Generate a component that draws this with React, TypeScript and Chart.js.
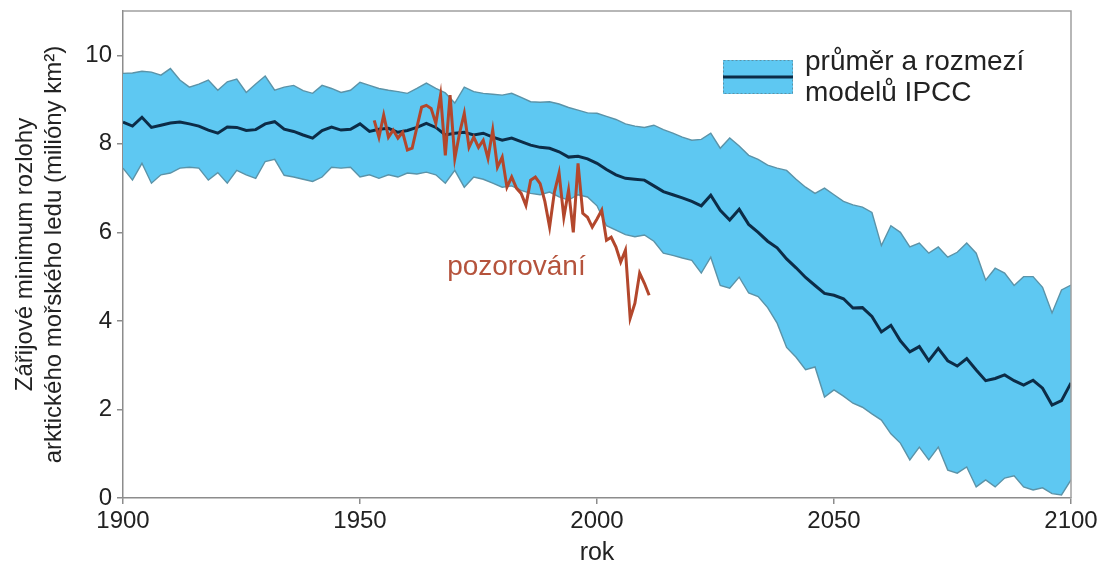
import React, { useEffect, useRef } from "react";
import { Chart, registerables } from "chart.js";

Chart.register(...registerables);

const modelYears = [
  1900, 1902, 1904, 1906, 1908, 1910, 1912, 1914, 1916, 1918,
  1920, 1922, 1924, 1926, 1928, 1930, 1932, 1934, 1936, 1938,
  1940, 1942, 1944, 1946, 1948, 1950, 1952, 1954, 1956, 1958,
  1960, 1962, 1964, 1966, 1968, 1970, 1972, 1974, 1976, 1978,
  1980, 1982, 1984, 1986, 1988, 1990, 1992, 1994, 1996, 1998,
  2000, 2002, 2004, 2006, 2008, 2010, 2012, 2014, 2016, 2018,
  2020, 2022, 2024, 2026, 2028, 2030, 2032, 2034, 2036, 2038,
  2040, 2042, 2044, 2046, 2048, 2050, 2052, 2054, 2056, 2058,
  2060, 2062, 2064, 2066, 2068, 2070, 2072, 2074, 2076, 2078,
  2080, 2082, 2084, 2086, 2088, 2090, 2092, 2094, 2096, 2098,
  2100,
];

const modelUpper = [
  9.59, 9.6, 9.64, 9.62, 9.55, 9.7, 9.44, 9.28, 9.35, 9.44,
  9.21, 9.4, 9.46, 9.16, 9.35, 9.53, 9.21, 9.28, 9.32, 9.2,
  9.14, 9.32, 9.25, 9.16, 9.21, 9.39, 9.32, 9.25, 9.21, 9.18,
  9.14, 9.25, 9.37, 9.25, 9.15, 8.92, 9.28, 9.18, 9.14, 9.12,
  9.1, 9.14, 9.05, 8.95, 8.94, 8.95, 8.9, 8.82, 8.76, 8.7,
  8.69, 8.62, 8.55, 8.45, 8.4, 8.37, 8.42, 8.32, 8.24, 8.15,
  8.08, 8.1, 8.24, 7.9, 8.13, 7.95, 7.74, 7.65, 7.52, 7.45,
  7.4, 7.2, 7.02, 6.88, 7.0, 6.85, 6.7, 6.62, 6.57, 6.45,
  5.7, 6.15, 6.0, 5.67, 5.76, 5.53, 5.67, 5.44, 5.55, 5.76,
  5.53, 4.92, 5.19, 5.08, 4.8, 5.0, 5.0, 4.76, 4.18, 4.7,
  4.81,
];

const modelMean = [
  8.49, 8.4, 8.6, 8.37, 8.42, 8.47, 8.49, 8.45, 8.4, 8.31,
  8.24, 8.38, 8.37, 8.3, 8.32, 8.45, 8.5, 8.33, 8.28, 8.2,
  8.13, 8.3, 8.38, 8.31, 8.33, 8.45, 8.28, 8.33, 8.35, 8.26,
  8.3, 8.37, 8.46, 8.37, 8.2, 8.24, 8.26, 8.2, 8.24, 8.15,
  8.08, 8.13, 8.05, 7.97, 7.92, 7.9, 7.82, 7.7, 7.72, 7.66,
  7.56, 7.42, 7.3, 7.22, 7.2, 7.18, 7.05, 6.92, 6.85, 6.78,
  6.7, 6.6, 6.84, 6.5, 6.28, 6.52, 6.18, 6.0, 5.8, 5.65,
  5.4, 5.2, 4.98, 4.8, 4.62, 4.58, 4.5, 4.29, 4.3, 4.1,
  3.75, 3.9, 3.55, 3.3, 3.42, 3.1, 3.38, 3.1, 2.98, 3.15,
  2.89, 2.65, 2.7, 2.78, 2.65, 2.55, 2.66, 2.48, 2.1, 2.2,
  2.6,
];

const modelLower = [
  7.45, 7.18, 7.56, 7.11, 7.3, 7.34, 7.45, 7.47, 7.45, 7.18,
  7.35, 7.11, 7.4, 7.3, 7.22, 7.6, 7.65, 7.29, 7.25, 7.2,
  7.15, 7.25, 7.47, 7.45, 7.47, 7.25, 7.3, 7.22, 7.3, 7.25,
  7.34, 7.32, 7.36, 7.3, 7.11, 7.4, 7.02, 7.25, 7.2, 7.11,
  7.02, 7.05, 6.95, 6.88, 6.85, 6.91, 6.8, 6.73, 6.85, 6.8,
  6.6, 6.15, 6.05, 5.95, 5.9, 5.94, 5.8, 5.53, 5.48, 5.42,
  5.37, 5.08, 5.44, 4.8, 4.74, 4.99, 4.63, 4.55, 4.3, 3.95,
  3.4, 3.18, 2.9, 2.96, 2.28, 2.44, 2.3, 2.14, 2.05, 1.9,
  1.76, 1.45, 1.24, 0.86, 1.15, 0.86, 1.15, 0.63, 0.56, 0.7,
  0.25, 0.41, 0.25, 0.45, 0.5, 0.25, 0.18, 0.23, 0.1, 0.07,
  0.41,
];

const obsYears = [
  1953, 1954, 1955, 1956, 1957, 1958, 1959, 1960, 1961, 1962,
  1963, 1964, 1965, 1966, 1967, 1968, 1969, 1970, 1971, 1972,
  1973, 1974, 1975, 1976, 1977, 1978, 1979, 1980, 1981, 1982,
  1983, 1984, 1985, 1986, 1987, 1988, 1989, 1990, 1991, 1992,
  1993, 1994, 1995, 1996, 1997, 1998, 1999, 2000, 2001, 2002,
  2003, 2004, 2005, 2006, 2007, 2008, 2009, 2010, 2011,
];

const obsValues = [
  8.53, 8.15, 8.65, 8.15, 8.31, 8.13, 8.26, 7.86, 7.9, 8.37,
  8.83, 8.87, 8.8, 8.46, 9.1, 7.74, 9.1, 7.67, 8.24, 8.69,
  7.92, 8.15, 7.92, 8.08, 7.67, 8.31, 7.47, 7.7, 7.02, 7.25,
  7.0, 6.88, 6.61, 7.18, 7.25, 7.1, 6.7, 6.12, 6.9, 7.34,
  6.34, 6.95, 6.0, 7.56, 6.43, 6.34, 6.12, 6.3, 6.5, 5.82,
  5.89, 5.67, 5.33, 5.6, 4.06, 4.4, 5.08, 4.85, 4.58,
];

const xTickValues = [1900, 1950, 2000, 2050, 2100];
const yTickValues = [0, 2, 4, 6, 8, 10];

const yTitleLines = ["Zářijové minimum rozlohy", "arktického mořského ledu (milióny km²)"];
const xTitle = "rok";
const legendLines = ["průměr a rozmezí", "modelů IPCC"];
const obsLabel = "pozorování";
const obsLabelAt = { year: 1983, value: 5.22 };

const FONT = "'Liberation Sans', Arial, Helvetica, sans-serif";
const BAND = "#5ec8f2";
const EDGE = "#5b93a8";
const MEAN = "#0c2c47";
const OBS = "#b3472c";
const AXIS = "#8c8c8c";
const TEXT = "#222222";

const decorPlugin = {
  id: "decor",
  afterDraw(chart: any) {
    const { ctx, chartArea, scales } = chart;
    ctx.save();
    // frame top & right
    ctx.strokeStyle = "#a0a0a0";
    ctx.lineWidth = 1.5;
    ctx.beginPath();
    ctx.moveTo(chartArea.left, chartArea.top);
    ctx.lineTo(chartArea.right, chartArea.top);
    ctx.lineTo(chartArea.right, chartArea.bottom);
    ctx.stroke();

    // legend
    const bx = chartArea.left + 600;
    const by = chartArea.top + 49;
    const bw = 70;
    const bh = 34;
    ctx.fillStyle = BAND;
    ctx.fillRect(bx, by, bw, bh);
    ctx.setLineDash([2, 2]);
    ctx.strokeStyle = EDGE;
    ctx.lineWidth = 1;
    ctx.strokeRect(bx + 0.5, by + 0.5, bw - 1, bh - 1);
    ctx.setLineDash([]);
    ctx.strokeStyle = MEAN;
    ctx.lineWidth = 3;
    ctx.beginPath();
    ctx.moveTo(bx, by + bh / 2);
    ctx.lineTo(bx + bw, by + bh / 2);
    ctx.stroke();

    ctx.fillStyle = TEXT;
    ctx.font = `28px ${FONT}`;
    ctx.textAlign = "left";
    ctx.textBaseline = "alphabetic";
    ctx.fillText(legendLines[0], bx + 82, by + 10);
    ctx.fillText(legendLines[1], bx + 82, by + 41);

    // observation label
    const ox = scales.x.getPixelForValue(obsLabelAt.year);
    const oy = scales.y.getPixelForValue(obsLabelAt.value);
    ctx.fillStyle = "#b5533c";
    ctx.font = `28px ${FONT}`;
    ctx.textAlign = "center";
    ctx.textBaseline = "middle";
    ctx.fillText(obsLabel, ox, oy);
    ctx.restore();
  },
};

export default function App() {
  const canvasRef = useRef<HTMLCanvasElement | null>(null);

  useEffect(() => {
    document.body.style.margin = "0";
    const canvas = canvasRef.current;
    if (!canvas) return;
    const pts = (xs: number[], ys: number[]) => xs.map((x, i) => ({ x, y: ys[i] }));

    const chart = new Chart(canvas, {
      type: "line",
      data: {
        datasets: [
          {
            label: "pozorování",
            data: pts(obsYears, obsValues),
            borderColor: OBS,
            borderWidth: 3,
            pointRadius: 0,
            tension: 0,
            fill: false,
            order: 0,
          },
          {
            label: "průměr",
            data: pts(modelYears, modelMean),
            borderColor: MEAN,
            borderWidth: 3,
            pointRadius: 0,
            tension: 0,
            fill: false,
            order: 1,
          },
          {
            label: "horní mez",
            data: pts(modelYears, modelUpper),
            borderColor: EDGE,
            borderWidth: 1.4,
            pointRadius: 0,
            tension: 0,
            fill: false,
            order: 2,
          },
          {
            label: "dolní mez",
            data: pts(modelYears, modelLower),
            borderColor: EDGE,
            borderWidth: 1.4,
            backgroundColor: BAND,
            pointRadius: 0,
            tension: 0,
            fill: 2,
            order: 3,
          },
        ],
      },
      options: {
        responsive: false,
        animation: false,
        layout: { padding: { top: 11, right: 35, left: 0, bottom: 0 } },
        plugins: {
          legend: { display: false },
          tooltip: { enabled: false },
        },
        scales: {
          x: {
            type: "linear",
            min: 1900,
            max: 2100,
            afterBuildTicks: (scale: any) => {
              scale.ticks = xTickValues.map((v) => ({ value: v }));
            },
            afterFit: (scale: any) => {
              scale.height = 76;
            },
            grid: { drawOnChartArea: false, drawTicks: true, tickLength: 6, color: AXIS, lineWidth: 1.5 },
            border: { display: true, color: AXIS, width: 1.5 },
            ticks: {
              color: TEXT,
              padding: 3,
              maxRotation: 0,
              font: { family: FONT, size: 24 },
              callback: (v: any) => String(v),
            },
            title: {
              display: true,
              text: xTitle,
              color: TEXT,
              font: { family: FONT, size: 25 },
              padding: { top: 0, bottom: 6 },
            },
          },
          y: {
            type: "linear",
            min: 0,
            max: 11,
            afterBuildTicks: (scale: any) => {
              scale.ticks = yTickValues.map((v) => ({ value: v }));
            },
            afterFit: (scale: any) => {
              scale.width = 123;
              scale.paddingTop = 0;
              scale.paddingBottom = 0;
            },
            grid: { drawOnChartArea: false, drawTicks: true, tickLength: 6, color: AXIS, lineWidth: 1.5 },
            border: { display: true, color: AXIS, width: 1.5 },
            ticks: {
              color: TEXT,
              padding: 5,
              font: { family: FONT, size: 24 },
              callback: (v: any) => String(v),
            },
            title: {
              display: true,
              text: yTitleLines,
              color: TEXT,
              font: { family: FONT, size: 24, lineHeight: 1.2 },
              padding: { top: 11, bottom: 0 },
            },
          },
        },
      },
      plugins: [decorPlugin],
    } as any);

    return () => {
      chart.destroy();
    };
  }, []);

  return (
    <div style={{ width: 1106, height: 574, background: "#ffffff" }}>
      <canvas ref={canvasRef} width={1106} height={574} style={{ display: "block" }} />
    </div>
  );
}
